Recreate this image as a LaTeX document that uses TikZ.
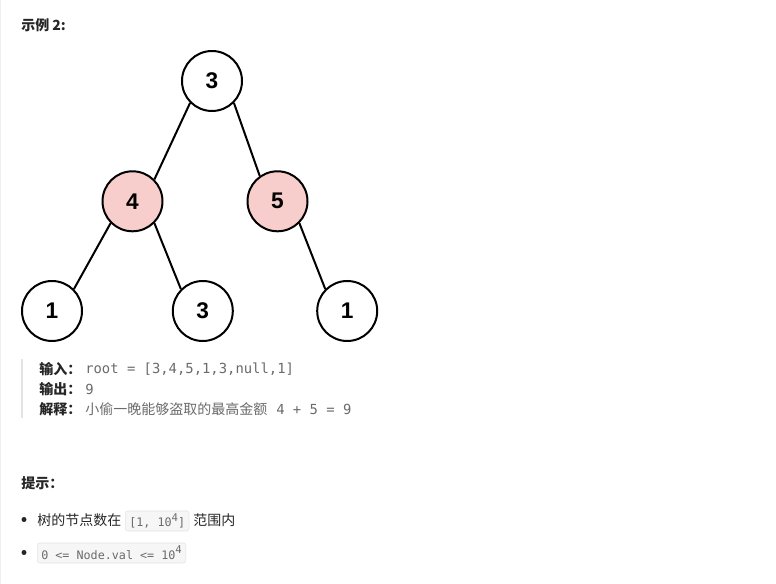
\documentclass[tikz,border=0pt]{standalone}
\usepackage{fontspec}
\setmainfont{Liberation Sans}
\setmonofont{DejaVu Sans Mono}
\newfontfamily\cjk{Noto Sans CJK SC}
\definecolor{robfill}{HTML}{F8CECC}
\definecolor{txtdark}{HTML}{262626}
\definecolor{txtgray}{HTML}{6B6B6B}
\definecolor{quotebar}{HTML}{E3E3E3}
\definecolor{pageline}{HTML}{F0F0F0}
\definecolor{codefill}{HTML}{F6F6F7}
\definecolor{codeline}{HTML}{E4E4E4}
\newcommand{\supfour}{\raisebox{0.5em}{\fontsize{8}{8}\selectfont 4}}
\begin{document}
\begin{tikzpicture}[x=0.75pt, y=-0.75pt,
        tnode/.style={circle, draw, line width=1.5pt, minimum size=45pt, inner sep=0pt, font=\fontsize{17}{17}\selectfont\bfseries},
        robbed/.style={tnode, fill=robfill},
        link/.style={line width=1.5pt},
        txt/.style={anchor=west, inner sep=0pt, text=txtdark, font=\cjk\fontsize{10.5}{12}\selectfont},
        lbl/.style={txt, font=\cjk\bfseries\fontsize{10.5}{12}\selectfont},
        val/.style={anchor=west, inner sep=0pt, text=txtgray, font=\ttfamily\fontsize{10.4}{12}\selectfont},
        codebox/.style={anchor=west, fill=codefill, draw=codeline, rounded corners=2pt, inner xsep=3pt, inner ysep=0pt, minimum height=15pt, text=txtgray, font=\ttfamily\fontsize{8.8}{10}\selectfont}]
        \useasboundingbox[fill=white] (0, 0) rectangle (776, 584);
        \draw[pageline] (0.5, 0) -- (0.5, 584);
        \node[lbl] (title) at (21, 25) {示例 2:};
        \node[tnode] (n3) at (212, 81) {3};
        \node[robbed] (n4) at (132.5, 201.3) {4};
        \node[robbed] (n5) at (277.5, 201.3) {5};
        \node[tnode] (n1a) at (52, 311) {1};
        \node[tnode] (n3b) at (202.8, 311) {3};
        \node[tnode] (n1b) at (347.2, 311) {1};
        \draw[link] (n3.-135) -- (n4.45);
        \draw[link] (n3.-45) -- (n5.125);
        \draw[link] (n4.-135) -- (n1a.45);
        \draw[link] (n4.-45) -- (n3b.135);
        \draw[link] (n5.-45) -- (n1b.135);
        \draw[quotebar, line width=1.5pt] (22, 359) -- (22, 418);
        \node[lbl] (inlbl) at (39, 369) {输入：};
        \node[val] (inval) at (85, 369) {root = [3,4,5,1,3,null,1]};
        \node[lbl] (outlbl) at (39, 389) {输出：};
        \node[val] (outval) at (85, 389) {9};
        \node[lbl] (whylbl) at (39, 409) {解释：};
        \node[txt, text=txtgray] (whyval) at (85, 409) {小偷一晚能够盗取的最高金额};
        \node[val] (whysum) at (276, 409) {4 + 5 = 9};
        \node[lbl] (hint) at (21, 483) {提示：};
        \fill[txtdark] (24, 519.5) circle (2.5);
        \fill[txtdark] (24, 552.5) circle (2.5);
        \node[txt] (cnt) at (37, 520) {树的节点数在};
        \node[codebox] (range) at (125, 521) {[1, 10\supfour]};
        \node[txt] (within) at (193, 520) {范围内};
        \node[codebox] (bound) at (37, 553) {0 <= Node.val <= 10\supfour};
\end{tikzpicture}
\end{document}
